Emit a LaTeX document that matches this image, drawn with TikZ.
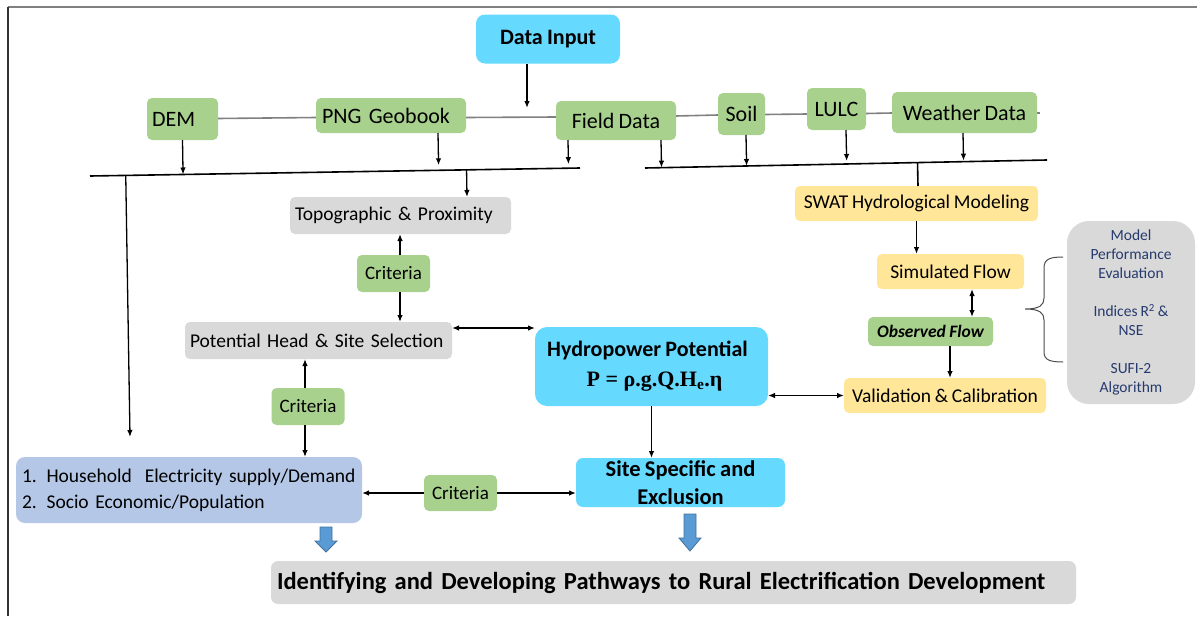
\documentclass[tikz,border=0pt]{standalone}
\usepackage{fontspec}
\setmainfont{Carlito}[WordSpace=0.85]
\newfontfamily\formfont{Liberation Serif}
\usetikzlibrary{arrows.meta,calc,backgrounds}

\definecolor{cyanC}{RGB}{102,217,255}
\definecolor{greenC}{RGB}{169,209,142}
\definecolor{grayC}{RGB}{217,217,217}
\definecolor{yellowC}{RGB}{255,230,153}
\definecolor{blueC}{RGB}{180,199,231}
\definecolor{navyC}{RGB}{38,58,110}
\definecolor{arrowFill}{RGB}{91,155,213}
\definecolor{arrowLine}{RGB}{65,113,156}
\definecolor{linkC}{RGB}{128,128,128}

% a downward block arrow: centre x, top y, shoulder y, tip y
\newcommand\blockdown[4]{%
  \draw[blockarrow] (#1-6,#2) -- (#1+6,#2) -- (#1+6,#3) -- (#1+11,#3) -- (#1,#4)
    -- (#1-11,#3) -- (#1-6,#3) -- cycle;}

\begin{document}
\begin{tikzpicture}[x=1pt,y=-1pt,
  box/.style={rounded corners=5pt, inner sep=0pt, outer sep=0pt, align=center, text=black},
  cbox/.style={box, fill=cyanC, font=\bfseries\fontsize{22}{28}\selectfont},
  gbox/.style={box, fill=greenC, font=\fontsize{22}{26}\selectfont},
  crit/.style={box, fill=greenC, font=\fontsize{19}{23}\selectfont, minimum width=73, minimum height=37},
  tbox/.style={box, fill=grayC, font=\fontsize{19.5}{23}\selectfont},
  ybox/.style={box, fill=yellowC, font=\fontsize{19.5}{23}\selectfont},
  arr/.style={-{Latex[length=7pt,width=5.5pt]}, line width=1.3pt},
  darr/.style={{Latex[length=7pt,width=5.5pt]}-{Latex[length=7pt,width=5.5pt]}, line width=1.3pt},
  link/.style={draw=linkC, line width=1.6pt},
  bus/.style={draw=black, line width=1.6pt},
  blockarrow/.style={fill=arrowFill, draw=arrowLine, line width=0.8pt},
  bracec/.style={draw=black!70, line width=1pt}]
\useasboundingbox (0,0) rectangle (1197,616);

% outer frame
\draw[draw=linkC, line width=2.5pt] (8,7) -- (1197,7);
\draw[draw=black!80, line width=2pt] (8,7) -- (8,616);

% data sources
\node[cbox, minimum width=144, minimum height=49, rounded corners=9pt] (datain) at (548,39) {\raisebox{-2pt}{Data Input}};
\node[gbox, minimum width=71, minimum height=42, text width=61, align=left] (dem) at (182.5,119) {DEM};
\node[gbox, minimum width=150, minimum height=35, text width=138, align=left] (png) at (391,115.5) {PNG Geobook};
\node[gbox, minimum width=120, minimum height=39] (field) at (616,120.5) {Field Data};
\node[gbox, minimum width=47, minimum height=42] (soil) at (741.5,114) {Soil};
\node[gbox, minimum width=59, minimum height=42] (lulc) at (836.5,109) {LULC};
\node[gbox, minimum width=145, minimum height=41] (weather) at (964.5,112.5) {Weather Data};

% site selection branch
\node[tbox, minimum width=221, minimum height=37, text width=211, align=left] (topo) at (400.5,215.5) {Topographic \& Proximity};
\node[crit] (crit1) at (393.5,273.5) {Criteria};
\node[tbox, minimum width=267, minimum height=37, text width=257, align=left] (pot) at (318.5,340.5) {Potential Head \& Site Selection};
\node[crit] (crit2) at (308,406.5) {Criteria};
\node[box, fill=blueC, minimum width=346, minimum height=66, text width=334, align=left, rounded corners=9pt,
      font=\fontsize{19.5}{26}\selectfont] (hh) at (189,490)
      {1. Household\ \ Electricity supply/Demand\\2. Socio Economic/Population};
\node[crit, minimum height=36] (crit3) at (460.5,493) {Criteria};

% hydropower
\node[cbox, minimum width=233, minimum height=79, rounded corners=12pt] (hydro) at (651.5,366.5)
  {\hspace*{-8pt}Hydropower Potential\\[2pt]{\formfont\fontsize{22}{26}\selectfont\hspace*{6pt}P = ρ.g.Q.H\textsubscript{e}.η}};
\node[cbox, minimum width=209, minimum height=49, rounded corners=7pt, font=\bfseries\fontsize{22.5}{28}\selectfont] (site) at (680.5,482.5)
  {Site Specific and\\Exclusion};

% hydrological modelling branch
\node[ybox, minimum width=243, minimum height=35] (swat) at (916.5,203.5) {SWAT Hydrological Modeling};
\node[ybox, minimum width=147, minimum height=35] (sim) at (950.5,271.5) {Simulated Flow};
\node[box, fill=greenC, minimum width=125, minimum height=29, font=\bfseries\itshape\fontsize{17.5}{21}\selectfont] (obs) at (930.5,331.5) {Observed Flow};
\node[ybox, minimum width=202, minimum height=35] (valid) at (945,395.5) {Validation \& Calibration};
\node[box, fill=grayC, minimum width=128, minimum height=183, rounded corners=22pt, text=navyC,
      font=\fontsize{15.5}{19}\selectfont] (perf) at (1131,312.5)
  {Model\\Performance\\Evaluation\\[19pt]Indices R\textsuperscript{2} \&\\NSE\\[19pt]SUFI-2\\Algorithm};

% outcome
\node[box, fill=grayC, minimum width=805, minimum height=43, text width=793, align=left, rounded corners=7pt,
      font=\bfseries\fontsize{24.5}{30}\selectfont] (final) at (673.5,582.5)
  {Identifying and Developing Pathways to Rural Electrification Development};

% links between the sources
\begin{scope}[on background layer]
  \draw[link] (dem.east |- 0,118.5) -- (png.west |- 0,117.5);
  \draw[link] (png.east |- 0,117.5) -- (field.west |- 0,117);
  \draw[link] (field.east |- 0,116) -- (soil.west |- 0,115);
  \draw[link] (soil.east |- 0,114.5) -- (lulc.west |- 0,114);
  \draw[link] (lulc.east |- 0,113.5) -- (weather.west |- 0,113);
  \draw[link] (weather.east |- 0,113) -- ([xshift=3]weather.east |- 0,113);
\end{scope}

% collector lines
\coordinate (busLa) at (90,176);
\coordinate (busLb) at (580,168);
\coordinate (busRa) at (645,168);
\coordinate (busRb) at (1047,160);
\draw[bus] (busLa) -- (busLb);
\draw[bus] (busRa) -- (busRb);

\coordinate (diEnd) at (527,108);
\draw[arr] ([xshift=-21]datain.south) -- (diEnd);

\draw[arr] (dem.south) -- ($(busLa)!(dem.south)!(busLb)$);
\draw[arr] ([xshift=47]png.south) -- ($(busLa)!([xshift=47]png.south)!(busLb)+(0,-5)$);
\draw[arr] ([xshift=-48]field.south) -- ($(busLa)!([xshift=-48]field.south)!(busLb)+(0,-4)$);
\draw[arr] ([xshift=45]field.south) -- ($(busRa)!([xshift=45]field.south)!(busRb)$);
\draw[arr] ([xshift=4.5]soil.south) -- ($(busRa)!([xshift=4.5]soil.south)!(busRb)$);
\draw[arr] ([xshift=9.5]lulc.south) -- ($(busRa)!([xshift=9.5]lulc.south)!(busRb)+(0,-3)$);
\draw[arr] ([xshift=-1.5]weather.south) -- ($(busRa)!([xshift=-1.5]weather.south)!(busRb)+(0,-1)$);

\coordinate (topoIn) at ([xshift=66.5]topo.north);
\draw[arr] ($(busLa)!(topoIn)!(busLb)$) -- (topoIn);
\coordinate (hhIn) at (130,437);
\draw[arr] ($(busLa)!(hhIn)!(busLb)$) -- (hhIn);
\draw[bus] ($(busRa)!([xshift=1.5]swat.north)!(busRb)$) -- ([xshift=1.5]swat.north);

% criteria links
\draw[arr] ([xshift=6.5]crit1.north) -- ([xshift=6.5]crit1.north |- topo.south);
\draw[arr] ([xshift=6.5]crit1.south) -- ([xshift=6.5]crit1.south |- pot.north);
\draw[arr] ([xshift=-3]crit2.north) -- ([xshift=-3]crit2.north |- pot.south);
\draw[arr] ([xshift=-3]crit2.south) -- ([xshift=-3]crit2.south |- hh.north);
\draw[arr] (crit3.west) -- (crit3.west -| hh.east);
\draw[arr] (crit3.east) -- (crit3.east -| site.west);

% hydropower links
\draw[darr] ([yshift=12.5]pot.east) -- ([yshift=12.5]pot.east -| hydro.west);
\draw[darr] (valid.west -| hydro.east) -- (valid.west);
\draw[arr] (hydro.south) -- (hydro.south |- site.north);

% hydrological chain
\draw[arr] (swat.south) -- (swat.south |- sim.north);
\draw[darr] ([xshift=21.5]sim.south) -- ([xshift=21.5]sim.south |- obs.north);
\draw[arr] ([xshift=19.5]obs.south) -- ([xshift=19.5]obs.south |- valid.north);

% brace grouping the calibration steps
\coordinate (brTop) at (1063,257);
\coordinate (brTip) at (1025,309);
\coordinate (brBot) at (1063,362);
\draw[bracec] (brTop) .. controls (1050,257) and (1044,259) .. (1044,268) -- (1044,298)
  .. controls (1044,305) and (1040,309) .. (brTip)
  .. controls (1040,309) and (1044,313) .. (1044,320) -- (1044,352)
  .. controls (1044,360) and (1050,362) .. (brBot);

% block arrows towards the outcome
\blockdown{326}{527}{541}{552}
\blockdown{690}{514}{538}{551}
\end{tikzpicture}
\end{document}
